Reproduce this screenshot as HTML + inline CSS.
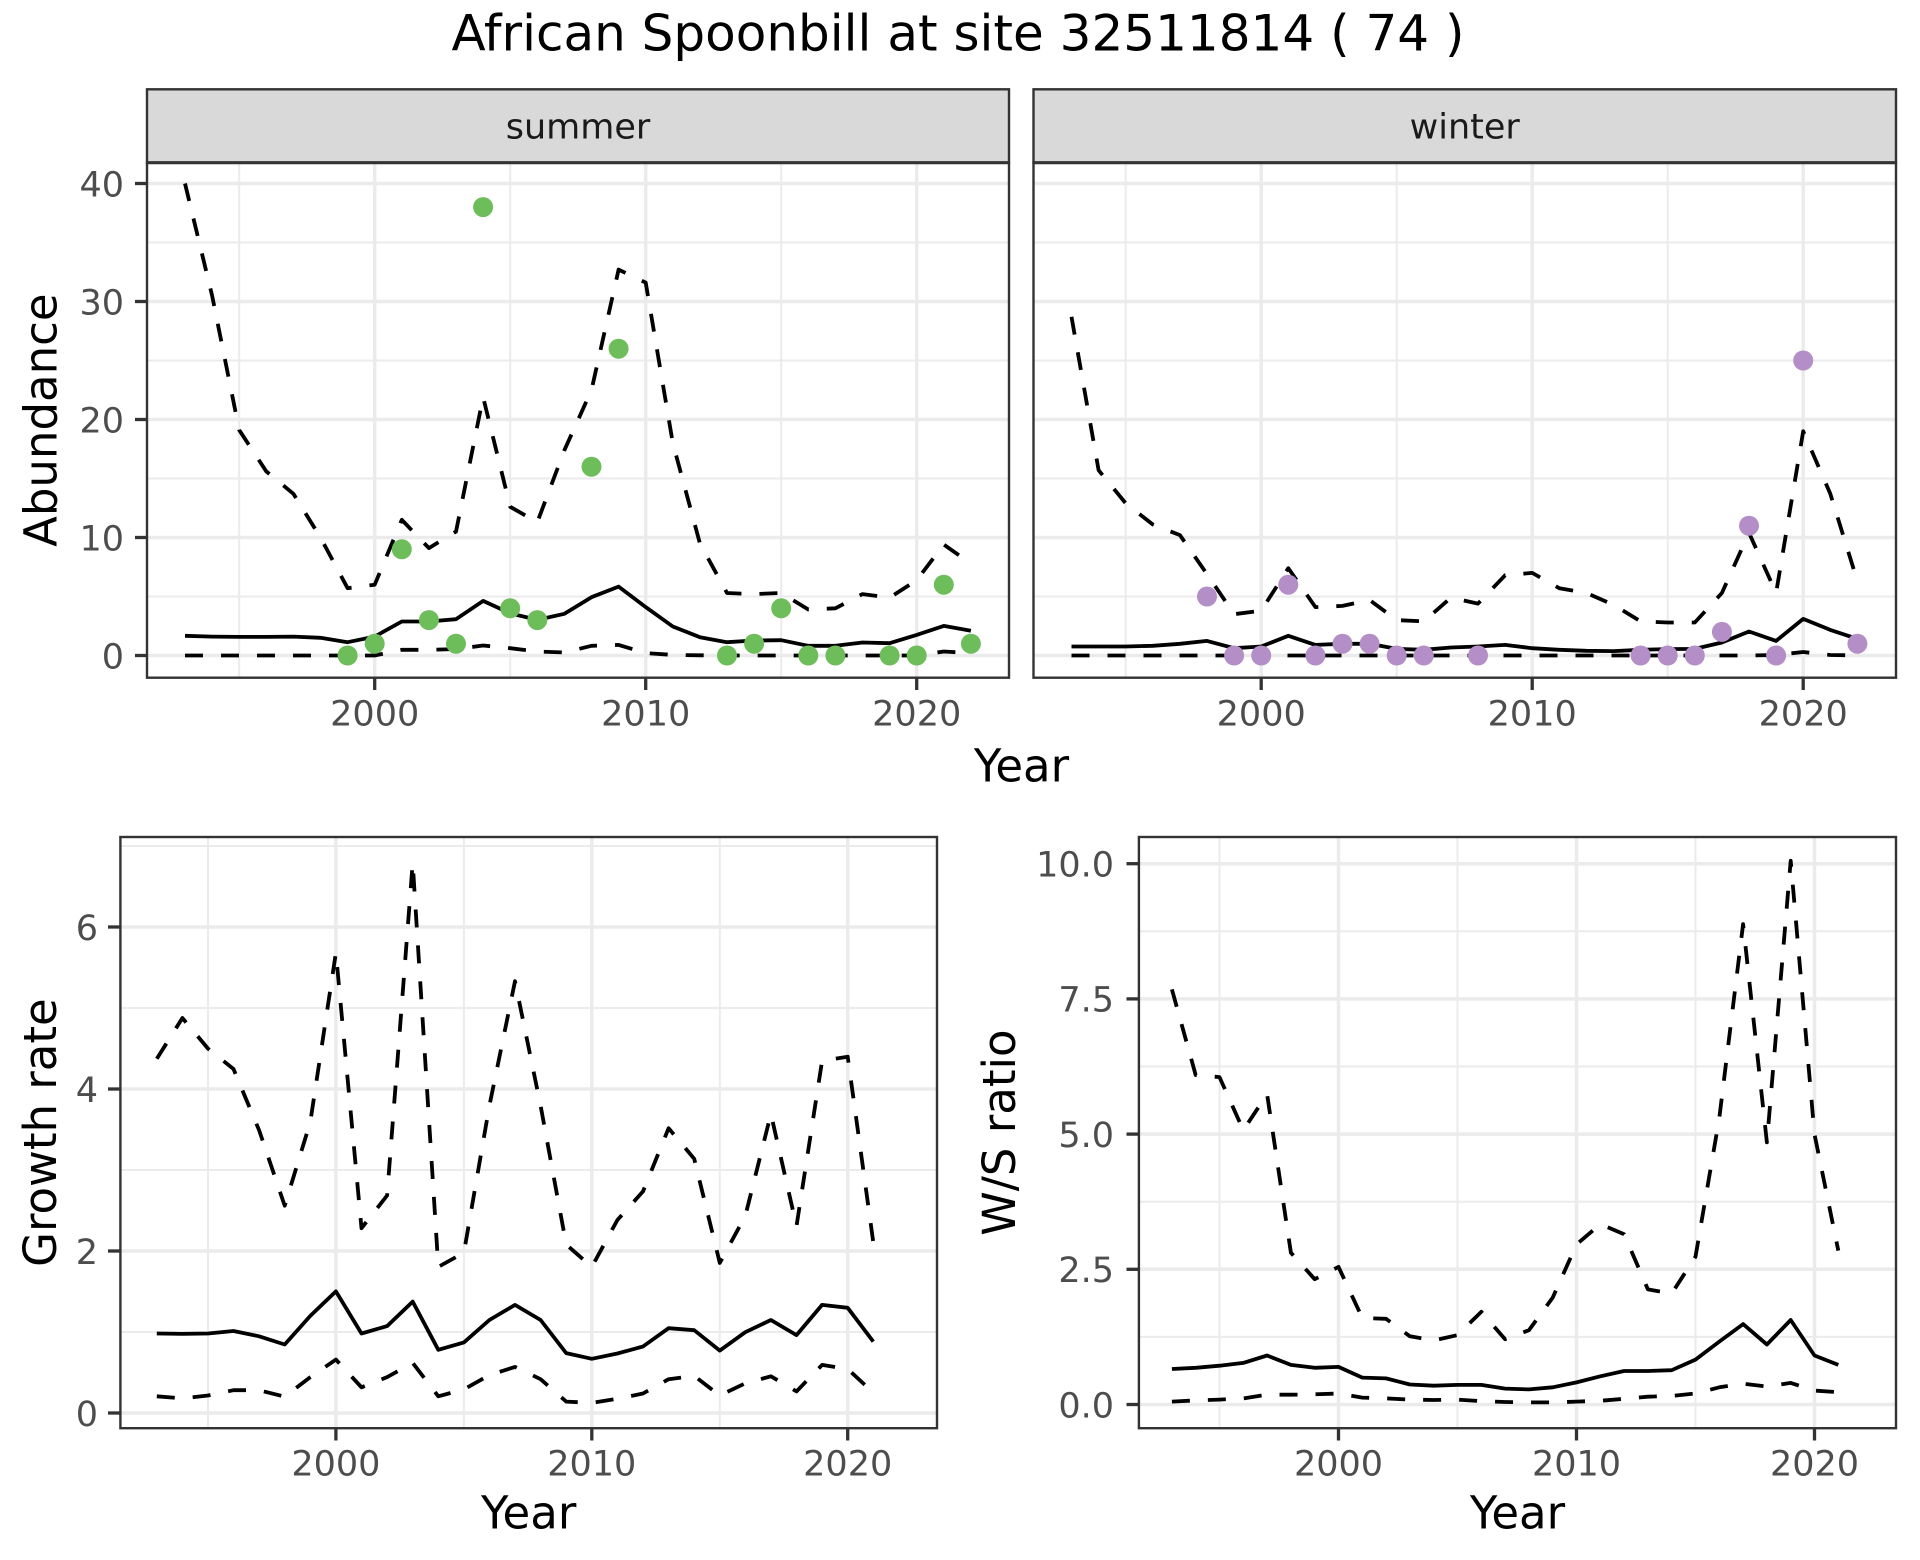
<!DOCTYPE html>
<html>
<head>
<meta charset="utf-8">
<style>
html,body{margin:0;padding:0;background:#fff;}
svg{display:block;}
text{font-family:"DejaVu Sans","Liberation Sans",sans-serif;}
.tk{fill:#4D4D4D;font-size:35px;}
.ax{fill:#000;font-size:45px;}
.gmaj{stroke:#EBEBEB;stroke-width:3.5;}
.gmin{stroke:#EBEBEB;stroke-width:2;}
.tick{stroke:#333333;stroke-width:3.3;}
.sol{fill:none;stroke:#000;stroke-width:3.8;stroke-linejoin:round;}
.dsh{fill:none;stroke:#000;stroke-width:3.8;stroke-linejoin:round;stroke-dasharray:18 18;}
.brd{fill:none;stroke:#333333;stroke-width:2.4;}
</style>
</head>
<body>
<svg width="1920" height="1560" viewBox="0 0 1920 1560" xmlns="http://www.w3.org/2000/svg">
<defs>
<clipPath id="cTL"><rect x="147" y="162.7" width="862" height="515"/></clipPath>
<clipPath id="cTR"><rect x="1033.5" y="162.7" width="862.5" height="515"/></clipPath>
<clipPath id="cBL"><rect x="120.4" y="837" width="816.6" height="591.2"/></clipPath>
<clipPath id="cBR"><rect x="1138.9" y="837" width="757.1" height="591.2"/></clipPath>
</defs>
<rect width="1920" height="1560" fill="#fff"/>

<!-- Title -->
<text x="958" y="50.7" text-anchor="middle" style="font-size:50px;fill:#000">African Spoonbill at site 32511814 ( 74 )</text>

<!-- ============ TOP LEFT (summer) ============ -->
<rect x="147" y="162.7" width="862" height="515" fill="#fff"/>
<g clip-path="url(#cTL)">
<line class="gmin" x1="147" x2="1009" y1="596.5" y2="596.5"/>
<line class="gmin" x1="147" x2="1009" y1="478.5" y2="478.5"/>
<line class="gmin" x1="147" x2="1009" y1="360.5" y2="360.5"/>
<line class="gmin" x1="147" x2="1009" y1="242.5" y2="242.5"/>
<line class="gmin" x1="239.2" x2="239.2" y1="162.7" y2="677.7"/>
<line class="gmin" x1="510.2" x2="510.2" y1="162.7" y2="677.7"/>
<line class="gmin" x1="781.2" x2="781.2" y1="162.7" y2="677.7"/>
<line class="gmaj" x1="147" x2="1009" y1="655.5" y2="655.5"/>
<line class="gmaj" x1="147" x2="1009" y1="537.5" y2="537.5"/>
<line class="gmaj" x1="147" x2="1009" y1="419.5" y2="419.5"/>
<line class="gmaj" x1="147" x2="1009" y1="301.5" y2="301.5"/>
<line class="gmaj" x1="147" x2="1009" y1="183.5" y2="183.5"/>
<line class="gmaj" x1="374.7" x2="374.7" y1="162.7" y2="677.7"/>
<line class="gmaj" x1="645.7" x2="645.7" y1="162.7" y2="677.7"/>
<line class="gmaj" x1="916.7" x2="916.7" y1="162.7" y2="677.7"/>
<polyline class="dsh" points="185.0,183.5 212.1,295.6 239.2,430.1 266.3,471.4 293.4,493.8 320.5,537.5 347.6,588.2 374.7,584.7 401.8,519.8 428.9,548.1 456.0,531.6 483.1,397.1 510.2,506.8 537.3,522.2 564.4,450.2 591.5,390.0 618.6,269.6 645.7,282.6 672.8,443.1 699.9,543.4 727.0,593.0 754.1,594.1 781.2,593.0 808.3,609.5 835.4,608.3 862.5,594.1 889.6,597.7 916.7,580.2 943.8,544.6 970.9,563.5"/>
<polyline class="sol" points="185.0,635.8 212.1,636.6 239.2,636.9 266.3,636.9 293.4,636.6 320.5,637.8 347.6,642.2 374.7,636.6 401.8,621.5 428.9,621.5 456.0,619.2 483.1,600.9 510.2,613.3 537.3,619.9 564.4,613.8 591.5,597.2 618.6,586.6 645.7,607.1 672.8,626.5 699.9,637.2 727.0,642.2 754.1,640.5 781.2,640.2 808.3,645.8 835.4,645.8 862.5,642.5 889.6,643.2 916.7,634.9 943.8,625.9 970.9,630.8"/>
<polyline class="dsh" points="185.0,655.5 212.1,655.5 239.2,655.5 266.3,655.5 293.4,655.5 320.5,655.5 347.6,655.5 374.7,655.5 401.8,649.8 428.9,649.8 456.0,649.1 483.1,645.5 510.2,648.2 537.3,651.5 564.4,652.5 591.5,645.8 618.6,644.9 645.7,653.1 672.8,654.9 699.9,655.3 727.0,655.5 754.1,655.5 781.2,655.5 808.3,655.5 835.4,655.5 862.5,655.5 889.6,655.5 916.7,655.5 943.8,651.5 970.9,653.1"/>
<g fill="#6dbd5a">
<circle cx="347.6" cy="655.5" r="10"/>
<circle cx="374.7" cy="643.7" r="10"/>
<circle cx="401.8" cy="549.3" r="10"/>
<circle cx="428.9" cy="620.1" r="10"/>
<circle cx="456.0" cy="643.7" r="10"/>
<circle cx="483.1" cy="207.1" r="10"/>
<circle cx="510.2" cy="608.3" r="10"/>
<circle cx="537.3" cy="620.1" r="10"/>
<circle cx="591.5" cy="466.7" r="10"/>
<circle cx="618.6" cy="348.7" r="10"/>
<circle cx="727.0" cy="655.5" r="10"/>
<circle cx="754.1" cy="643.7" r="10"/>
<circle cx="781.2" cy="608.3" r="10"/>
<circle cx="808.3" cy="655.5" r="10"/>
<circle cx="835.4" cy="655.5" r="10"/>
<circle cx="889.6" cy="655.5" r="10"/>
<circle cx="916.7" cy="655.5" r="10"/>
<circle cx="943.8" cy="584.7" r="10"/>
<circle cx="970.9" cy="643.7" r="10"/>
</g>
</g>
<rect class="brd" x="147" y="162.7" width="862" height="515"/>
<rect x="147" y="89.3" width="862" height="73.4" fill="#D9D9D9" stroke="#333333" stroke-width="2.4"/>
<line x1="147" x2="1009" y1="162.7" y2="162.7" stroke="#333333" stroke-width="3.2"/>
<text x="578" y="138.3" text-anchor="middle" style="font-size:35px;fill:#1A1A1A">summer</text>
<!-- ticks TL -->
<line class="tick" x1="135" x2="147" y1="655.5" y2="655.5"/>
<line class="tick" x1="135" x2="147" y1="537.5" y2="537.5"/>
<line class="tick" x1="135" x2="147" y1="419.5" y2="419.5"/>
<line class="tick" x1="135" x2="147" y1="301.5" y2="301.5"/>
<line class="tick" x1="135" x2="147" y1="183.5" y2="183.5"/>
<text class="tk" x="124" y="668.3" text-anchor="end">0</text>
<text class="tk" x="124" y="550.3" text-anchor="end">10</text>
<text class="tk" x="124" y="432.3" text-anchor="end">20</text>
<text class="tk" x="124" y="314.3" text-anchor="end">30</text>
<text class="tk" x="124" y="196.3" text-anchor="end">40</text>
<line class="tick" x1="374.7" x2="374.7" y1="677.7" y2="690"/>
<line class="tick" x1="645.7" x2="645.7" y1="677.7" y2="690"/>
<line class="tick" x1="916.7" x2="916.7" y1="677.7" y2="690"/>
<text class="tk" x="374.7" y="725.7" text-anchor="middle">2000</text>
<text class="tk" x="645.7" y="725.7" text-anchor="middle">2010</text>
<text class="tk" x="916.7" y="725.7" text-anchor="middle">2020</text>

<!-- ============ TOP RIGHT (winter) ============ -->
<rect x="1033.5" y="162.7" width="862.5" height="515" fill="#fff"/>
<g clip-path="url(#cTR)">
<line class="gmin" x1="1033.5" x2="1896" y1="596.5" y2="596.5"/>
<line class="gmin" x1="1033.5" x2="1896" y1="478.5" y2="478.5"/>
<line class="gmin" x1="1033.5" x2="1896" y1="360.5" y2="360.5"/>
<line class="gmin" x1="1033.5" x2="1896" y1="242.5" y2="242.5"/>
<line class="gmin" x1="1125.7" x2="1125.7" y1="162.7" y2="677.7"/>
<line class="gmin" x1="1396.7" x2="1396.7" y1="162.7" y2="677.7"/>
<line class="gmin" x1="1667.7" x2="1667.7" y1="162.7" y2="677.7"/>
<line class="gmaj" x1="1033.5" x2="1896" y1="655.5" y2="655.5"/>
<line class="gmaj" x1="1033.5" x2="1896" y1="537.5" y2="537.5"/>
<line class="gmaj" x1="1033.5" x2="1896" y1="419.5" y2="419.5"/>
<line class="gmaj" x1="1033.5" x2="1896" y1="301.5" y2="301.5"/>
<line class="gmaj" x1="1033.5" x2="1896" y1="183.5" y2="183.5"/>
<line class="gmaj" x1="1261.2" x2="1261.2" y1="162.7" y2="677.7"/>
<line class="gmaj" x1="1532.2" x2="1532.2" y1="162.7" y2="677.7"/>
<line class="gmaj" x1="1803.2" x2="1803.2" y1="162.7" y2="677.7"/>
<polyline class="dsh" points="1071.5,316.8 1098.6,470.2 1125.7,503.3 1152.8,524.5 1179.9,535.1 1207.0,574.1 1234.1,614.2 1261.2,610.7 1288.3,568.2 1315.4,607.1 1342.5,605.9 1369.6,600.0 1396.7,620.1 1423.8,621.3 1450.9,597.7 1478.0,603.6 1505.1,575.3 1532.2,572.9 1559.3,588.2 1586.4,593.0 1613.5,604.8 1640.6,621.3 1667.7,622.5 1694.8,622.5 1721.9,593.0 1749.0,532.8 1776.1,593.0 1803.2,431.3 1830.3,493.8 1857.4,581.2"/>
<polyline class="sol" points="1071.5,646.5 1098.6,646.5 1125.7,646.5 1152.8,645.8 1179.9,643.8 1207.0,640.9 1234.1,648.2 1261.2,646.5 1288.3,635.8 1315.4,644.9 1342.5,643.8 1369.6,643.8 1396.7,648.9 1423.8,649.8 1450.9,647.5 1478.0,646.5 1505.1,644.9 1532.2,648.2 1559.3,649.8 1586.4,650.8 1613.5,651.1 1640.6,649.8 1667.7,649.1 1694.8,648.9 1721.9,642.5 1749.0,631.5 1776.1,640.9 1803.2,618.9 1830.3,629.9 1857.4,638.9"/>
<polyline class="dsh" points="1071.5,655.5 1098.6,655.5 1125.7,655.5 1152.8,655.5 1179.9,655.5 1207.0,655.5 1234.1,655.5 1261.2,655.5 1288.3,655.5 1315.4,655.5 1342.5,655.5 1369.6,655.5 1396.7,655.5 1423.8,655.5 1450.9,655.5 1478.0,655.5 1505.1,655.5 1532.2,655.5 1559.3,655.5 1586.4,655.5 1613.5,655.5 1640.6,655.5 1667.7,655.5 1694.8,655.5 1721.9,655.5 1749.0,655.5 1776.1,655.0 1803.2,652.0 1830.3,655.0 1857.4,655.3"/>
<g fill="#b48ec7">
<circle cx="1207.0" cy="596.5" r="10"/>
<circle cx="1234.1" cy="655.5" r="10"/>
<circle cx="1261.2" cy="655.5" r="10"/>
<circle cx="1288.3" cy="584.7" r="10"/>
<circle cx="1315.4" cy="655.5" r="10"/>
<circle cx="1342.5" cy="643.7" r="10"/>
<circle cx="1369.6" cy="643.7" r="10"/>
<circle cx="1396.7" cy="655.5" r="10"/>
<circle cx="1423.8" cy="655.5" r="10"/>
<circle cx="1478.0" cy="655.5" r="10"/>
<circle cx="1640.6" cy="655.5" r="10"/>
<circle cx="1667.7" cy="655.5" r="10"/>
<circle cx="1694.8" cy="655.5" r="10"/>
<circle cx="1721.9" cy="631.9" r="10"/>
<circle cx="1749.0" cy="525.7" r="10"/>
<circle cx="1776.1" cy="655.5" r="10"/>
<circle cx="1803.2" cy="360.5" r="10"/>
<circle cx="1857.4" cy="643.7" r="10"/>
</g>
</g>
<rect class="brd" x="1033.5" y="162.7" width="862.5" height="515"/>
<rect x="1033.5" y="89.3" width="862.5" height="73.4" fill="#D9D9D9" stroke="#333333" stroke-width="2.4"/>
<line x1="1033.5" x2="1896" y1="162.7" y2="162.7" stroke="#333333" stroke-width="3.2"/>
<text x="1464.7" y="138.3" text-anchor="middle" style="font-size:35px;fill:#1A1A1A">winter</text>
<line class="tick" x1="1261.2" x2="1261.2" y1="677.7" y2="690"/>
<line class="tick" x1="1532.2" x2="1532.2" y1="677.7" y2="690"/>
<line class="tick" x1="1803.2" x2="1803.2" y1="677.7" y2="690"/>
<text class="tk" x="1261.2" y="725.7" text-anchor="middle">2000</text>
<text class="tk" x="1532.2" y="725.7" text-anchor="middle">2010</text>
<text class="tk" x="1803.2" y="725.7" text-anchor="middle">2020</text>

<!-- top axis titles -->
<text class="ax" x="1021.5" y="781.7" text-anchor="middle">Year</text>
<text class="ax" transform="translate(56.7,420.2) rotate(-90)" text-anchor="middle">Abundance</text>

<!-- ============ BOTTOM LEFT (Growth rate) ============ -->
<rect x="120.4" y="837" width="816.6" height="591.2" fill="#fff"/>
<g clip-path="url(#cBL)">
<line class="gmin" x1="120.4" x2="937" y1="1332" y2="1332"/>
<line class="gmin" x1="120.4" x2="937" y1="1170" y2="1170"/>
<line class="gmin" x1="120.4" x2="937" y1="1008" y2="1008"/>
<line class="gmin" x1="120.4" x2="937" y1="846" y2="846"/>
<line class="gmin" x1="208.0" x2="208.0" y1="837" y2="1428.2"/>
<line class="gmin" x1="463.9" x2="463.9" y1="837" y2="1428.2"/>
<line class="gmin" x1="719.8" x2="719.8" y1="837" y2="1428.2"/>
<line class="gmaj" x1="120.4" x2="937" y1="1413" y2="1413"/>
<line class="gmaj" x1="120.4" x2="937" y1="1251" y2="1251"/>
<line class="gmaj" x1="120.4" x2="937" y1="1089" y2="1089"/>
<line class="gmaj" x1="120.4" x2="937" y1="927" y2="927"/>
<line class="gmaj" x1="335.9" x2="335.9" y1="837" y2="1428.2"/>
<line class="gmaj" x1="591.8" x2="591.8" y1="837" y2="1428.2"/>
<line class="gmaj" x1="847.7" x2="847.7" y1="837" y2="1428.2"/>
<polyline class="dsh" points="156.8,1058.8 182.4,1018.0 208.0,1048.6 233.5,1069.0 259.1,1130.2 284.7,1205.7 310.3,1122.0 335.9,952.7 361.5,1228.2 387.1,1195.5 412.7,862.9 438.3,1266.9 463.9,1252.7 489.4,1105.7 515.0,981.2 540.6,1105.7 566.2,1244.5 591.8,1266.9 617.4,1220.0 643.0,1191.4 668.6,1128.2 694.2,1158.8 719.8,1262.9 745.3,1215.9 770.9,1113.9 796.5,1226.1 822.1,1060.8 847.7,1056.7 873.3,1242.4"/>
<polyline class="sol" points="156.8,1333.5 182.4,1333.9 208.0,1333.5 233.5,1331.0 259.1,1336.3 284.7,1344.5 310.3,1315.9 335.9,1291.4 361.5,1333.5 387.1,1326.1 412.7,1301.6 438.3,1349.8 463.9,1342.4 489.4,1320.0 515.0,1304.9 540.6,1320.0 566.2,1353.1 591.8,1358.8 617.4,1353.5 643.0,1346.5 668.6,1328.2 694.2,1330.2 719.8,1350.6 745.3,1332.2 770.9,1320.0 796.5,1335.1 822.1,1304.9 847.7,1307.8 873.3,1341.6"/>
<polyline class="dsh" points="156.8,1396.3 182.4,1398.4 208.0,1395.5 233.5,1390.2 259.1,1390.2 284.7,1396.7 310.3,1377.1 335.9,1359.6 361.5,1387.3 387.1,1377.1 412.7,1362.9 438.3,1396.3 463.9,1389.4 489.4,1375.1 515.0,1366.9 540.6,1379.2 566.2,1401.6 591.8,1402.9 617.4,1398.8 643.0,1393.5 668.6,1379.2 694.2,1375.9 719.8,1395.5 745.3,1383.3 770.9,1376.3 796.5,1391.4 822.1,1364.9 847.7,1369.0 873.3,1392.7"/>
</g>
<rect class="brd" x="120.4" y="837" width="816.6" height="591.2"/>
<line class="tick" x1="108" x2="120.4" y1="1413" y2="1413"/>
<line class="tick" x1="108" x2="120.4" y1="1251" y2="1251"/>
<line class="tick" x1="108" x2="120.4" y1="1089" y2="1089"/>
<line class="tick" x1="108" x2="120.4" y1="927" y2="927"/>
<text class="tk" x="98" y="1425.8" text-anchor="end">0</text>
<text class="tk" x="98" y="1263.8" text-anchor="end">2</text>
<text class="tk" x="98" y="1101.8" text-anchor="end">4</text>
<text class="tk" x="98" y="939.8" text-anchor="end">6</text>
<line class="tick" x1="335.9" x2="335.9" y1="1428.2" y2="1440.5"/>
<line class="tick" x1="591.8" x2="591.8" y1="1428.2" y2="1440.5"/>
<line class="tick" x1="847.7" x2="847.7" y1="1428.2" y2="1440.5"/>
<text class="tk" x="335.9" y="1475.7" text-anchor="middle">2000</text>
<text class="tk" x="591.8" y="1475.7" text-anchor="middle">2010</text>
<text class="tk" x="847.7" y="1475.7" text-anchor="middle">2020</text>
<text class="ax" x="528.7" y="1528.3" text-anchor="middle">Year</text>
<text class="ax" transform="translate(56,1132.6) rotate(-90)" text-anchor="middle">Growth rate</text>

<!-- ============ BOTTOM RIGHT (W/S ratio) ============ -->
<rect x="1138.9" y="837" width="757.1" height="591.2" fill="#fff"/>
<g clip-path="url(#cBR)">
<line class="gmin" x1="1138.9" x2="1896" y1="1336.9" y2="1336.9"/>
<line class="gmin" x1="1138.9" x2="1896" y1="1201.7" y2="1201.7"/>
<line class="gmin" x1="1138.9" x2="1896" y1="1066.5" y2="1066.5"/>
<line class="gmin" x1="1138.9" x2="1896" y1="931.3" y2="931.3"/>
<line class="gmin" x1="1219.5" x2="1219.5" y1="837" y2="1428.2"/>
<line class="gmin" x1="1457.5" x2="1457.5" y1="837" y2="1428.2"/>
<line class="gmin" x1="1695.5" x2="1695.5" y1="837" y2="1428.2"/>
<line class="gmaj" x1="1138.9" x2="1896" y1="1404.5" y2="1404.5"/>
<line class="gmaj" x1="1138.9" x2="1896" y1="1269.3" y2="1269.3"/>
<line class="gmaj" x1="1138.9" x2="1896" y1="1134.1" y2="1134.1"/>
<line class="gmaj" x1="1138.9" x2="1896" y1="998.9" y2="998.9"/>
<line class="gmaj" x1="1138.9" x2="1896" y1="863.7" y2="863.7"/>
<line class="gmaj" x1="1338.5" x2="1338.5" y1="837" y2="1428.2"/>
<line class="gmaj" x1="1576.5" x2="1576.5" y1="837" y2="1428.2"/>
<line class="gmaj" x1="1814.5" x2="1814.5" y1="837" y2="1428.2"/>
<polyline class="dsh" points="1171.9,989.4 1195.7,1075.1 1219.5,1077.1 1243.3,1130.2 1267.1,1094.3 1290.9,1252.7 1314.7,1279.2 1338.5,1266.9 1362.3,1318.0 1386.1,1318.8 1409.9,1336.3 1433.7,1340.4 1457.5,1335.1 1481.3,1311.8 1505.1,1339.2 1528.9,1330.2 1552.7,1297.6 1576.5,1244.5 1600.3,1224.1 1624.1,1234.3 1647.9,1289.4 1671.7,1293.5 1695.5,1256.7 1719.3,1118.0 1743.1,924.1 1766.9,1142.4 1790.7,860.8 1814.5,1134.3 1838.3,1250.6"/>
<polyline class="sol" points="1171.9,1369.0 1195.7,1367.8 1219.5,1365.7 1243.3,1362.9 1267.1,1355.5 1290.9,1364.9 1314.7,1367.8 1338.5,1366.9 1362.3,1377.6 1386.1,1378.4 1409.9,1384.5 1433.7,1385.7 1457.5,1384.9 1481.3,1384.9 1505.1,1388.6 1528.9,1389.4 1552.7,1387.3 1576.5,1382.4 1600.3,1376.3 1624.1,1371.0 1647.9,1371.0 1671.7,1370.2 1695.5,1359.6 1719.3,1341.6 1743.1,1324.1 1766.9,1344.5 1790.7,1320.0 1814.5,1355.5 1838.3,1364.9"/>
<polyline class="dsh" points="1171.9,1401.6 1195.7,1400.4 1219.5,1399.6 1243.3,1398.4 1267.1,1394.7 1290.9,1394.7 1314.7,1394.3 1338.5,1393.5 1362.3,1397.6 1386.1,1398.4 1409.9,1399.6 1433.7,1400.0 1457.5,1399.6 1481.3,1401.2 1505.1,1402.0 1528.9,1402.4 1552.7,1402.4 1576.5,1401.6 1600.3,1400.8 1624.1,1398.8 1647.9,1396.7 1671.7,1395.9 1695.5,1393.5 1719.3,1387.3 1743.1,1383.7 1766.9,1386.5 1790.7,1382.9 1814.5,1390.6 1838.3,1392.2"/>
</g>
<rect class="brd" x="1138.9" y="837" width="757.1" height="591.2"/>
<line class="tick" x1="1126.5" x2="1138.9" y1="1404.5" y2="1404.5"/>
<line class="tick" x1="1126.5" x2="1138.9" y1="1269.3" y2="1269.3"/>
<line class="tick" x1="1126.5" x2="1138.9" y1="1134.1" y2="1134.1"/>
<line class="tick" x1="1126.5" x2="1138.9" y1="998.9" y2="998.9"/>
<line class="tick" x1="1126.5" x2="1138.9" y1="863.7" y2="863.7"/>
<text class="tk" x="1114" y="1417.3" text-anchor="end">0.0</text>
<text class="tk" x="1114" y="1282.1" text-anchor="end">2.5</text>
<text class="tk" x="1114" y="1146.9" text-anchor="end">5.0</text>
<text class="tk" x="1114" y="1011.7" text-anchor="end">7.5</text>
<text class="tk" x="1114" y="876.5" text-anchor="end">10.0</text>
<line class="tick" x1="1338.5" x2="1338.5" y1="1428.2" y2="1440.5"/>
<line class="tick" x1="1576.5" x2="1576.5" y1="1428.2" y2="1440.5"/>
<line class="tick" x1="1814.5" x2="1814.5" y1="1428.2" y2="1440.5"/>
<text class="tk" x="1338.5" y="1475.7" text-anchor="middle">2000</text>
<text class="tk" x="1576.5" y="1475.7" text-anchor="middle">2010</text>
<text class="tk" x="1814.5" y="1475.7" text-anchor="middle">2020</text>
<text class="ax" x="1517.5" y="1528.3" text-anchor="middle">Year</text>
<text class="ax" transform="translate(1015,1132.6) rotate(-90)" text-anchor="middle">W/S ratio</text>
</svg>
</body>
</html>
